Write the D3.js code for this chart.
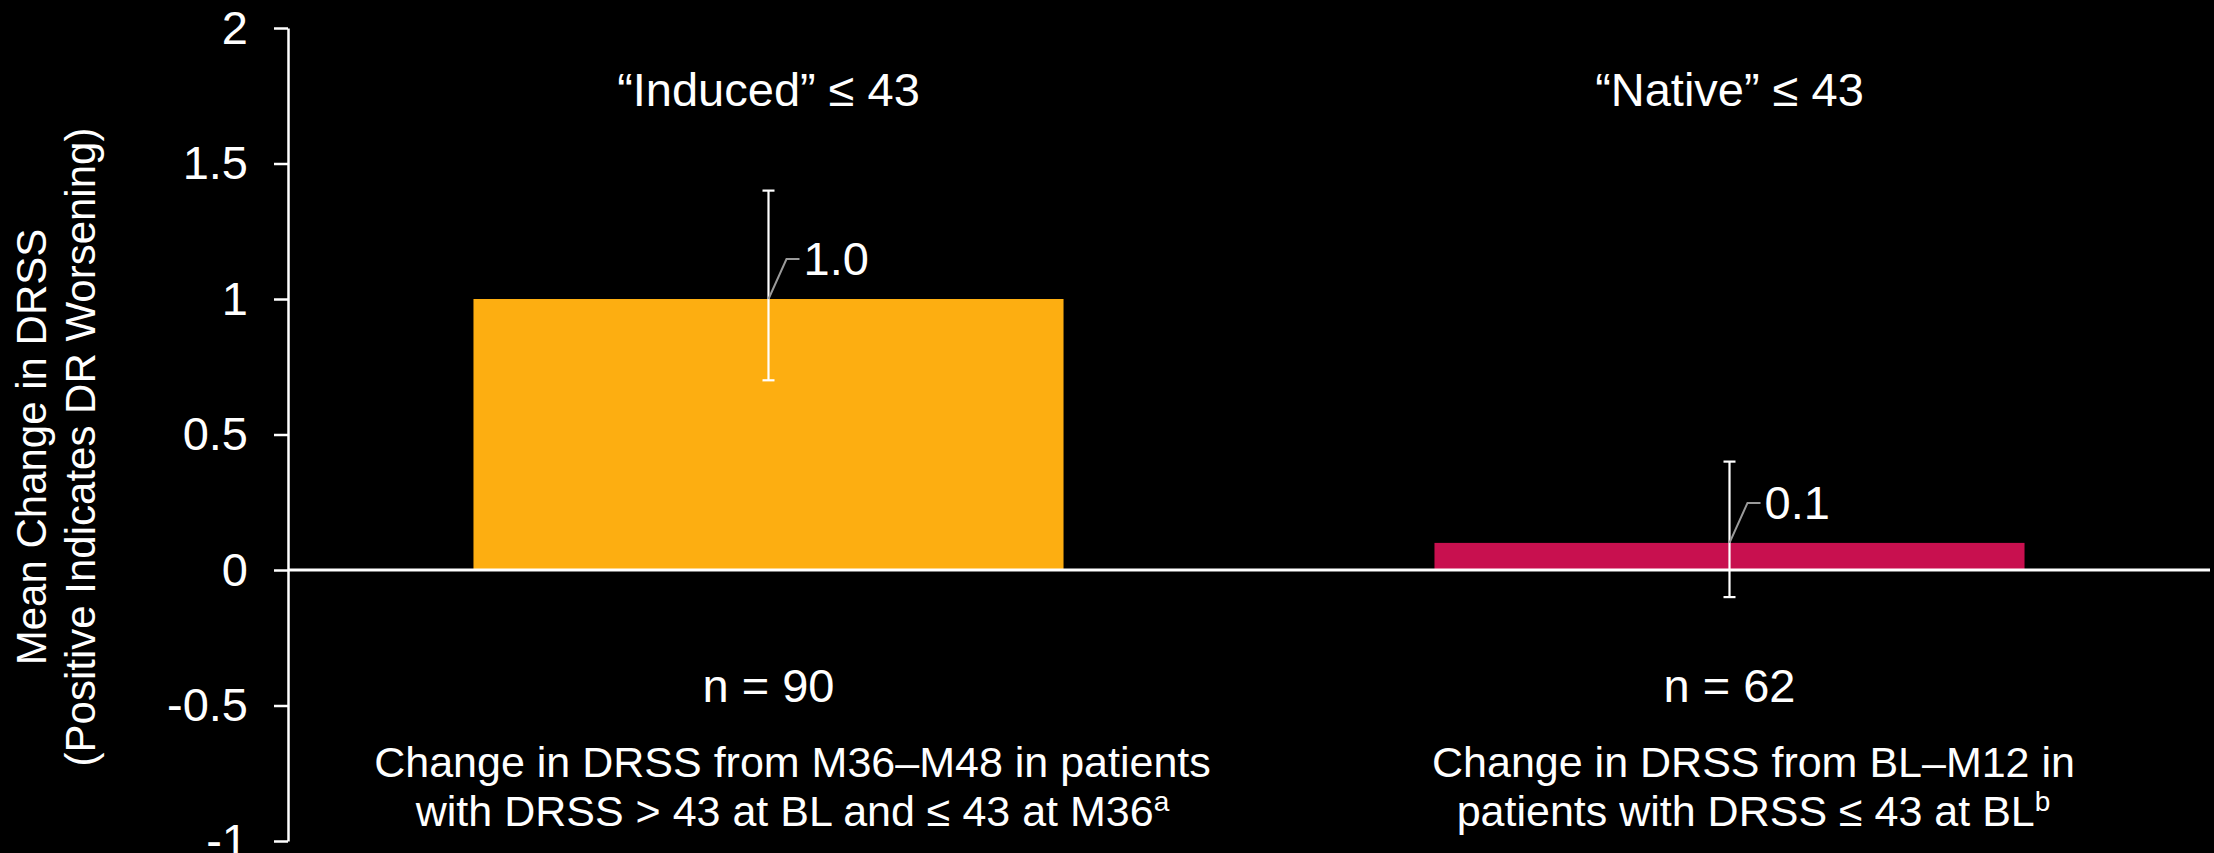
<!DOCTYPE html>
<html>
<head>
<meta charset="utf-8">
<script src="https://cdn.jsdelivr.net/npm/d3@7"></script>
<style>
  html, body { margin: 0; padding: 0; background: #000; }
  svg { display: block; font-family: "Liberation Sans", Arial, sans-serif; }
</style>
</head>
<body>
<svg id="chart" width="2214" height="853"></svg>
<script>
// Mean change in DRSS for the two groups, with error bars
const categories = ["Induced", "Native"];
const groupLabels = ["\u201CInduced\u201D \u2264 43", "\u201CNative\u201D \u2264 43"];
const meanChange = [1.0, 0.1];
const errLow = [0.7, -0.1];
const errHigh = [1.4, 0.4];
const nLabels = ["n = 90", "n = 62"];
const descLine1 = ["Change in DRSS from M36\u2013M48 in patients", "Change in DRSS from BL\u2013M12 in"];
const descLine2 = ["with DRSS > 43 at BL and \u2264 43 at M36", "patients with DRSS \u2264 43 at BL"];
const footnotes = ["a", "b"];
const barColors = ["#FDAE11", "#C8104F"];
const yTicks = [-1, -0.5, 0, 0.5, 1, 1.5, 2];
const yTitle = ["Mean Change in DRSS", "(Positive Indicates DR Worsening)"];

const svg = d3.select("#chart");
const plotLeft = 288, plotRight = 2210, plotTop = 28, plotBottom = 841;

const x = d3.scaleBand()
  .domain(categories)
  .range([plotLeft, plotRight])
  .paddingInner(0.386)
  .paddingOuter(0.193);

const y = d3.scaleLinear().domain([-1, 2]).range([plotBottom, plotTop]);

const data = categories.map((c, i) => ({
  cat: c, value: meanChange[i], lo: errLow[i], hi: errHigh[i],
  group: groupLabels[i], n: nLabels[i], d1: descLine1[i], d2: descLine2[i],
  fn: footnotes[i], color: barColors[i]
}));
const cx = d => x(d.cat) + x.bandwidth() / 2;

// bars
svg.append("g").selectAll("rect").data(data).join("rect")
  .attr("x", d => x(d.cat))
  .attr("width", x.bandwidth())
  .attr("y", d => y(Math.max(0, d.value)))
  .attr("height", d => Math.abs(y(d.value) - y(0)))
  .attr("fill", d => d.color);

// y axis
const yAxis = svg.append("g")
  .attr("transform", `translate(${plotLeft},0)`)
  .call(d3.axisLeft(y).tickValues(yTicks).tickFormat(d => String(d))
    .tickSize(14).tickSizeOuter(0).tickPadding(26));
yAxis.select(".domain").attr("stroke", "#fff").attr("stroke-width", 2.5);
yAxis.selectAll(".tick line").attr("stroke", "#fff").attr("stroke-width", 2.5);
yAxis.selectAll(".tick text")
  .attr("fill", "#fff").attr("font-size", 47)
  .attr("font-family", "'Liberation Sans', Arial, sans-serif");

// zero baseline
svg.append("line")
  .attr("x1", plotLeft).attr("x2", plotRight)
  .attr("y1", y(0)).attr("y2", y(0))
  .attr("stroke", "#fff").attr("stroke-width", 3);

// error bars
const eb = svg.append("g").attr("stroke", "#fff").attr("stroke-width", 2.2);
data.forEach(d => {
  eb.append("line").attr("x1", cx(d)).attr("x2", cx(d)).attr("y1", y(d.hi)).attr("y2", y(d.lo));
  eb.append("line").attr("x1", cx(d) - 6).attr("x2", cx(d) + 6).attr("y1", y(d.hi)).attr("y2", y(d.hi));
  eb.append("line").attr("x1", cx(d) - 6).attr("x2", cx(d) + 6).attr("y1", y(d.lo)).attr("y2", y(d.lo));
});

// value labels with leader lines
data.forEach(d => {
  const x0 = cx(d), y0 = y(d.value);
  svg.append("path")
    .attr("d", `M${x0},${y0} L${x0 + 18},${y0 - 40} L${x0 + 31},${y0 - 40}`)
    .attr("fill", "none").attr("stroke", "#9a9a9a").attr("stroke-width", 2);
  svg.append("text")
    .attr("x", x0 + 35).attr("y", y0 - 40)
    .attr("dy", "0.35em")
    .attr("fill", "#fff").attr("font-size", 47)
    .text(d3.format(".1f")(d.value));
});

// group headings
svg.append("g").selectAll("text").data(data).join("text")
  .attr("x", cx).attr("y", 106)
  .attr("text-anchor", "middle").attr("fill", "#fff").attr("font-size", 47)
  .text(d => d.group);

// sample sizes
svg.append("g").selectAll("text").data(data).join("text")
  .attr("x", cx).attr("y", 702)
  .attr("text-anchor", "middle").attr("fill", "#fff").attr("font-size", 47)
  .text(d => d.n);

// descriptions
const desc = svg.append("g").attr("fill", "#fff").attr("font-size", 43).attr("text-anchor", "middle");
data.forEach(d => {
  desc.append("text").attr("x", cx(d) + 24).attr("y", 777).text(d.d1);
  const t = desc.append("text").attr("x", cx(d) + 24).attr("y", 826);
  t.append("tspan").text(d.d2);
  t.append("tspan").attr("font-size", 28).attr("dy", -15).text(d.fn);
});

// y axis title
const title = svg.append("text")
  .attr("transform", "translate(46,447) rotate(-90)")
  .attr("text-anchor", "middle").attr("fill", "#fff").attr("font-size", 42);
title.append("tspan").attr("x", 0).attr("y", 0).text(yTitle[0]);
title.append("tspan").attr("x", 0).attr("y", 49).text(yTitle[1]);
</script>
</body>
</html>
